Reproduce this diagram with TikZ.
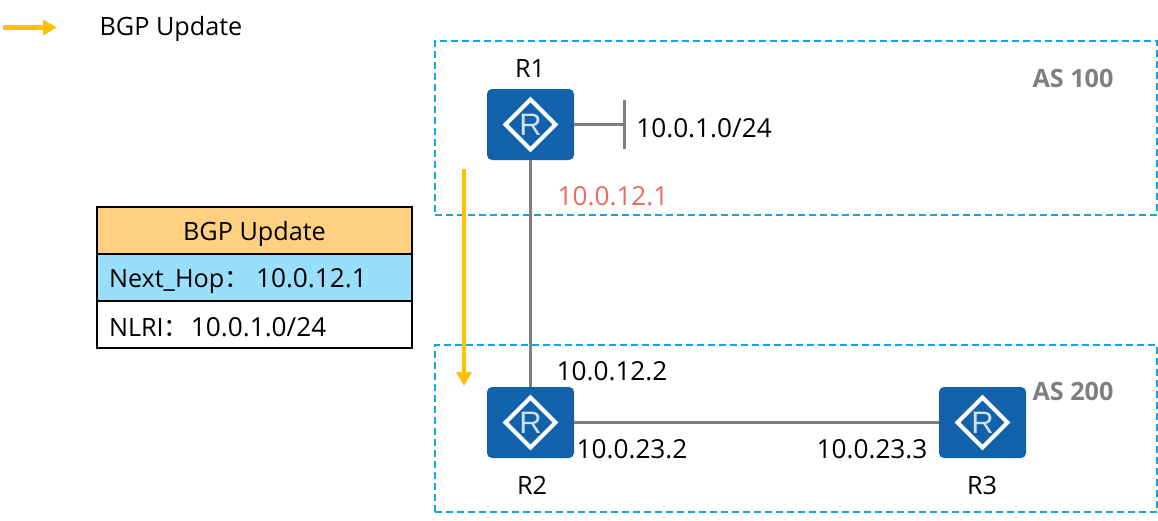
\documentclass[tikz,border=0pt]{standalone}
\usepackage{fontspec}
\setmainfont{Open Sans}
\newfontfamily\cjkfont{Noto Sans CJK SC}
\newfontfamily\iconfont{Liberation Sans}
\usetikzlibrary{arrows.meta}
\definecolor{routerblue}{HTML}{1262AB}
\definecolor{linegray}{HTML}{7F7F7F}
\definecolor{dashblue}{HTML}{12A5E0}
\definecolor{flowamber}{HTML}{FFC000}
\definecolor{headorange}{HTML}{FFD07F}
\definecolor{rowblue}{HTML}{99DFFB}
\definecolor{iprose}{HTML}{EC6B61}
\newcommand{\fwcolon}{{\cjkfont ：}}
\newcommand{\addrtext}[1]{{\fontsize{26.2}{30}\selectfont #1}}
\tikzset{
  x=1pt,y=-1pt,
  every node/.style={font=\fontsize{25.2}{30}\selectfont,inner sep=0pt,outer sep=0pt},
  router/.style={rounded corners=5pt,fill=routerblue,minimum width=87pt,minimum height=71pt,
    path picture={
      \draw[white,line width=4pt,sharp corners,line join=miter]
        ([xshift=-25pt]path picture bounding box.center) -- ([yshift=25pt]path picture bounding box.center)
        -- ([xshift=25pt]path picture bounding box.center) -- ([yshift=-25pt]path picture bounding box.center) -- cycle;
      \node[text=white!80!routerblue,font=\fontsize{31}{31}\iconfont] at (path picture bounding box.center) {R};
    }},
  link/.style={draw=linegray,line width=2.8pt},
  asbox/.style={draw=dashblue,line width=1.5pt,dash pattern=on 7pt off 4pt},
  flow/.style={draw=flowamber,line width=4.2pt,-{Triangle[length=14pt,width=15pt]}},
  ascap/.style={text=linegray,font=\fontsize{25.2}{30}\selectfont\bfseries},
  cell/.style={draw=black,line width=1.6pt,minimum width=315pt,minimum height=47pt},
  celltext/.style={anchor=west,xshift=12pt},
}
\begin{document}
\begin{tikzpicture}
\useasboundingbox (0,0) rectangle (1158,520);
% AS regions
\node[asbox,minimum width=722pt,minimum height=174pt] (as100) at (796,128) {};
\node[asbox,minimum width=722pt,minimum height=167pt] (as200) at (796,428.5) {};
\node[ascap] (as100label) at (1073,78) {AS 100};
\node[ascap] (as200label) at (1073,391) {AS 200};
% Routers
\node[router] (r1) at (530.5,124.5) {};
\node[router] (r2) at (530.5,422.5) {};
\node[router] (r3) at (982.5,422.5) {};
\node (r1label) at (530,69) {R1};
\node (r2label) at (532,485) {R2};
\node (r3label) at (982,485) {R3};
% Links
\coordinate (stub) at (624.5,124.5);
\coordinate (stubtop) at (624.5,100);
\coordinate (stubbot) at (624.5,149);
\draw[link] (r1.east) -- (stub);
\draw[link] (stubtop) -- (stubbot);
\draw[link] (r1.south) -- (r2.north);
\draw[link] (r2.east) -- (r3.west);
% Addresses
\node (net) at (704,128) {\addrtext{10.0.1.0/24}};
\node[text=iprose] (ip121) at (613,196) {\addrtext{10.0.12.1}};
\node (ip122) at (612,371) {\addrtext{10.0.12.2}};
\node (ip232) at (632,449) {\addrtext{10.0.23.2}};
\node (ip233) at (872,449) {\addrtext{10.0.23.3}};
% Legend
\coordinate (legfrom) at (3,27.5);
\coordinate (legto) at (57,27.5);
\draw[flow] (legfrom) -- (legto);
\node (legtext) at (171,29) {BGP Update};
% Update flow
\coordinate (flowfrom) at (464,169);
\coordinate (flowto) at (464,386);
\draw[flow] (flowfrom) -- (flowto);
% Table
\node[cell,fill=headorange] (head) at (254.5,230.5) {};
\node[cell,fill=rowblue] (hop) at (254.5,277.5) {};
\node[cell,fill=white] (nlri) at (254.5,324.5) {};
\node (headtext) at ([yshift=-3pt]head.center) {BGP Update};
\node[celltext,yshift=-4pt] (hoptext) at (hop.west) {Next\_Hop\fwcolon\ \addrtext{10.0.12.1}};
\node[celltext,yshift=-3pt] (nlritext) at (nlri.west) {NLRI\fwcolon\hspace{2pt}\addrtext{10.0.1.0/24}};
\end{tikzpicture}
\end{document}
